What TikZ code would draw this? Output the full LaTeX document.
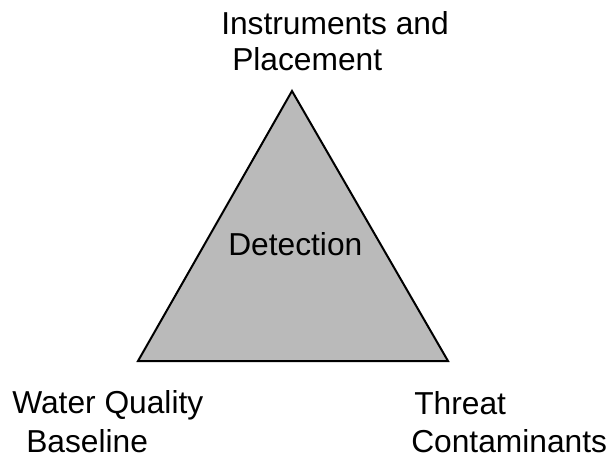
\documentclass[tikz,border=0pt]{standalone}
\usepackage{fontspec}
\setmainfont{Liberation Sans}
\begin{document}
\begin{tikzpicture}[x=0.75pt,y=-0.75pt,
  lbl/.style={anchor=base west,inner sep=0pt,font=\fontsize{23.8pt}{28pt}\selectfont},
  tri/.style={fill=black!27,draw=black,line width=1.5pt,line join=miter}]
\useasboundingbox (0,0) rectangle (610,458);
\coordinate (A) at (292,91);
\coordinate (B) at (138,361);
\coordinate (C) at (448,361);
\filldraw[tri] (A) -- (B) -- (C) -- cycle;
\node[lbl] (t1) at (221,34) {Instruments and};
\node[lbl] (t2) at (232,70) {Placement};
\node[lbl] (d) at (228,255) {Detection};
\node[lbl] (w1) at (12,413) {Water Quality};
\node[lbl] (w2) at (26,452) {Baseline};
\node[lbl] (h1) at (414,414) {Threat};
\node[lbl] (h2) at (411,452) {Contaminants};
\end{tikzpicture}
\end{document}
